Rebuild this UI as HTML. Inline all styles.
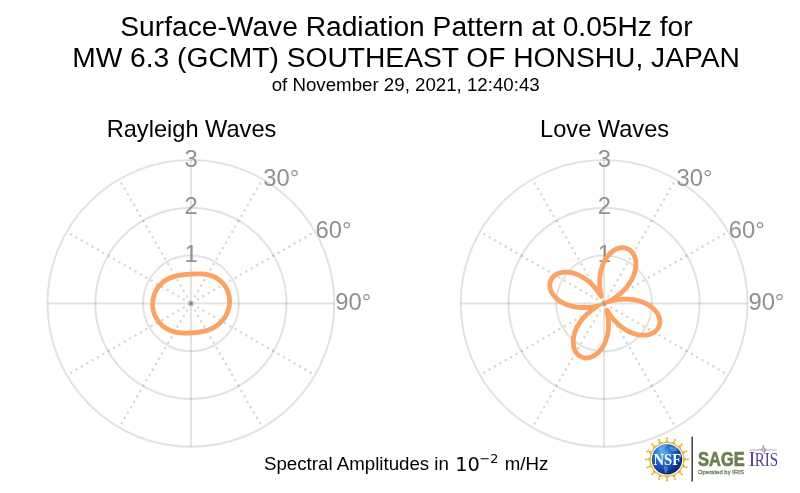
<!DOCTYPE html>
<html><head><meta charset="utf-8"><title>Surface-Wave Radiation Pattern</title>
<style>
html,body{margin:0;padding:0;background:#fff;}
body{width:800px;height:493px;overflow:hidden;}
svg{display:block;}
text{font-family:"Liberation Sans",sans-serif;fill:#000;}
.tk{font-size:23.8px;fill:#919191;}
.t1{font-size:28.2px;}
.t3{font-size:18.7px;}
.st{font-size:23.6px;}
.mj{font-family:"DejaVu Sans",sans-serif;}
</style></head><body>
<svg width="800" height="493" viewBox="0 0 800 493">
<rect width="800" height="493" fill="#fff"/>
<line x1="190.90" y1="303.40" x2="262.60" y2="179.21" stroke="#000" stroke-opacity="0.16" stroke-width="2.5" stroke-dasharray="0.01 6.19" stroke-dashoffset="-2" stroke-linecap="round"/>
<line x1="190.90" y1="303.40" x2="315.09" y2="231.70" stroke="#000" stroke-opacity="0.16" stroke-width="2.5" stroke-dasharray="0.01 6.19" stroke-dashoffset="-2" stroke-linecap="round"/>
<line x1="190.90" y1="303.40" x2="315.09" y2="375.10" stroke="#000" stroke-opacity="0.16" stroke-width="2.5" stroke-dasharray="0.01 6.19" stroke-dashoffset="-2" stroke-linecap="round"/>
<line x1="190.90" y1="303.40" x2="262.60" y2="427.59" stroke="#000" stroke-opacity="0.16" stroke-width="2.5" stroke-dasharray="0.01 6.19" stroke-dashoffset="-2" stroke-linecap="round"/>
<line x1="190.90" y1="303.40" x2="119.20" y2="427.59" stroke="#000" stroke-opacity="0.16" stroke-width="2.5" stroke-dasharray="0.01 6.19" stroke-dashoffset="-2" stroke-linecap="round"/>
<line x1="190.90" y1="303.40" x2="66.71" y2="375.10" stroke="#000" stroke-opacity="0.16" stroke-width="2.5" stroke-dasharray="0.01 6.19" stroke-dashoffset="-2" stroke-linecap="round"/>
<line x1="190.90" y1="303.40" x2="66.71" y2="231.70" stroke="#000" stroke-opacity="0.16" stroke-width="2.5" stroke-dasharray="0.01 6.19" stroke-dashoffset="-2" stroke-linecap="round"/>
<line x1="190.90" y1="303.40" x2="119.20" y2="179.21" stroke="#000" stroke-opacity="0.16" stroke-width="2.5" stroke-dasharray="0.01 6.19" stroke-dashoffset="-2" stroke-linecap="round"/>
<line x1="190.90" y1="303.40" x2="190.90" y2="160.00" stroke="#000" stroke-opacity="0.115" stroke-width="2"/>
<line x1="190.90" y1="303.40" x2="334.30" y2="303.40" stroke="#000" stroke-opacity="0.115" stroke-width="2"/>
<line x1="190.90" y1="303.40" x2="190.90" y2="446.80" stroke="#000" stroke-opacity="0.115" stroke-width="2"/>
<line x1="190.90" y1="303.40" x2="47.50" y2="303.40" stroke="#000" stroke-opacity="0.115" stroke-width="2"/>
<circle cx="190.90" cy="303.40" r="47.80" fill="none" stroke="#000" stroke-opacity="0.115" stroke-width="2"/>
<circle cx="190.90" cy="303.40" r="95.60" fill="none" stroke="#000" stroke-opacity="0.115" stroke-width="2"/>
<circle cx="190.90" cy="303.40" r="143.40" fill="none" stroke="#000" stroke-opacity="0.115" stroke-width="2"/>
<circle cx="190.90" cy="303.40" r="1.25" fill="#808080"/>
<text x="191.20" y="262.20" text-anchor="middle" class="tk">1</text>
<text x="191.20" y="214.40" text-anchor="middle" class="tk">2</text>
<text x="191.20" y="166.60" text-anchor="middle" class="tk">3</text>
<path d="M190.90,274.15 L191.41,274.11 L191.92,274.08 L192.44,274.05 L192.95,274.01 L193.47,273.98 L193.99,273.96 L194.52,273.93 L195.05,273.91 L195.57,273.89 L196.11,273.87 L196.64,273.85 L197.18,273.84 L197.73,273.83 L198.27,273.83 L198.82,273.83 L199.38,273.83 L199.94,273.84 L200.50,273.86 L201.06,273.88 L201.63,273.91 L202.21,273.95 L202.78,273.99 L203.36,274.04 L203.94,274.10 L204.53,274.17 L205.12,274.25 L205.71,274.34 L206.30,274.44 L206.89,274.55 L207.49,274.67 L208.09,274.80 L208.68,274.94 L209.28,275.09 L209.88,275.26 L210.48,275.44 L211.07,275.63 L211.67,275.84 L212.26,276.06 L212.85,276.29 L213.44,276.54 L214.02,276.80 L214.60,277.07 L215.18,277.36 L215.75,277.67 L216.32,277.98 L216.88,278.31 L217.43,278.66 L217.98,279.02 L218.51,279.40 L219.04,279.78 L219.57,280.19 L220.08,280.60 L220.58,281.03 L221.07,281.48 L221.56,281.93 L222.03,282.40 L222.49,282.89 L222.94,283.38 L223.37,283.89 L223.79,284.41 L224.20,284.94 L224.60,285.48 L224.98,286.03 L225.35,286.60 L225.71,287.17 L226.05,287.75 L226.37,288.34 L226.68,288.94 L226.98,289.55 L227.26,290.17 L227.52,290.79 L227.77,291.42 L228.00,292.06 L228.22,292.70 L228.42,293.35 L228.61,294.00 L228.77,294.66 L228.92,295.32 L229.06,295.98 L229.18,296.65 L229.28,297.32 L229.37,297.99 L229.44,298.67 L229.49,299.34 L229.53,300.02 L229.55,300.70 L229.55,301.37 L229.54,302.05 L229.52,302.73 L229.47,303.40 L229.42,304.07 L229.34,304.74 L229.25,305.41 L229.15,306.07 L229.03,306.74 L228.90,307.39 L228.75,308.05 L228.59,308.70 L228.41,309.34 L228.22,309.98 L228.01,310.61 L227.79,311.24 L227.56,311.86 L227.31,312.48 L227.05,313.09 L226.78,313.69 L226.50,314.28 L226.20,314.87 L225.89,315.45 L225.57,316.02 L225.24,316.58 L224.89,317.13 L224.54,317.68 L224.17,318.21 L223.80,318.74 L223.41,319.26 L223.01,319.76 L222.61,320.26 L222.19,320.75 L221.77,321.22 L221.33,321.69 L220.89,322.14 L220.44,322.59 L219.99,323.02 L219.52,323.44 L219.05,323.85 L218.58,324.26 L218.09,324.64 L217.60,325.02 L217.11,325.39 L216.61,325.75 L216.10,326.09 L215.59,326.43 L215.08,326.75 L214.56,327.06 L214.04,327.36 L213.51,327.65 L212.99,327.93 L212.46,328.20 L211.93,328.46 L211.39,328.71 L210.86,328.94 L210.32,329.17 L209.78,329.39 L209.24,329.60 L208.71,329.80 L208.17,329.99 L207.63,330.17 L207.09,330.34 L206.55,330.51 L206.01,330.67 L205.48,330.82 L204.94,330.96 L204.41,331.09 L203.87,331.22 L203.34,331.34 L202.81,331.46 L202.28,331.57 L201.75,331.67 L201.23,331.77 L200.70,331.86 L200.18,331.95 L199.65,332.03 L199.13,332.11 L198.61,332.19 L198.10,332.26 L197.58,332.33 L197.06,332.39 L196.55,332.45 L196.03,332.51 L195.52,332.56 L195.01,332.62 L194.49,332.67 L193.98,332.71 L193.47,332.76 L192.96,332.80 L192.44,332.84 L191.93,332.87 L191.42,332.91 L190.90,332.94 L190.38,332.97 L189.87,333.00 L189.35,333.02 L188.83,333.04 L188.31,333.06 L187.78,333.07 L187.26,333.09 L186.73,333.09 L186.20,333.10 L185.66,333.10 L185.13,333.09 L184.59,333.09 L184.05,333.07 L183.51,333.05 L182.96,333.03 L182.41,333.00 L181.86,332.96 L181.31,332.92 L180.75,332.87 L180.19,332.82 L179.63,332.76 L179.07,332.68 L178.50,332.61 L177.94,332.52 L177.37,332.42 L176.80,332.32 L176.22,332.20 L175.65,332.08 L175.08,331.94 L174.50,331.80 L173.93,331.65 L173.35,331.48 L172.78,331.30 L172.21,331.11 L171.63,330.91 L171.06,330.70 L170.49,330.48 L169.93,330.24 L169.36,330.00 L168.80,329.73 L168.25,329.46 L167.69,329.18 L167.14,328.88 L166.60,328.57 L166.06,328.24 L165.52,327.91 L164.99,327.56 L164.47,327.19 L163.96,326.82 L163.45,326.43 L162.95,326.03 L162.46,325.62 L161.97,325.20 L161.50,324.76 L161.03,324.31 L160.58,323.85 L160.13,323.38 L159.70,322.90 L159.27,322.40 L158.86,321.90 L158.45,321.39 L158.06,320.86 L157.68,320.33 L157.31,319.78 L156.96,319.23 L156.62,318.66 L156.29,318.09 L155.97,317.51 L155.67,316.92 L155.38,316.33 L155.10,315.73 L154.84,315.12 L154.60,314.50 L154.36,313.88 L154.14,313.25 L153.94,312.62 L153.75,311.98 L153.58,311.33 L153.42,310.69 L153.27,310.04 L153.14,309.38 L153.03,308.72 L152.93,308.06 L152.84,307.40 L152.77,306.74 L152.72,306.07 L152.68,305.40 L152.66,304.74 L152.65,304.07 L152.66,303.40 L152.68,302.73 L152.72,302.07 L152.78,301.40 L152.85,300.74 L152.93,300.08 L153.03,299.42 L153.15,298.76 L153.28,298.11 L153.42,297.46 L153.58,296.82 L153.75,296.18 L153.94,295.54 L154.15,294.92 L154.37,294.29 L154.60,293.67 L154.85,293.06 L155.11,292.46 L155.38,291.86 L155.67,291.27 L155.97,290.69 L156.28,290.11 L156.61,289.55 L156.95,288.99 L157.30,288.44 L157.67,287.90 L158.04,287.38 L158.43,286.86 L158.83,286.35 L159.24,285.85 L159.66,285.36 L160.09,284.89 L160.53,284.42 L160.98,283.97 L161.44,283.53 L161.91,283.10 L162.38,282.68 L162.87,282.28 L163.36,281.88 L163.86,281.50 L164.36,281.13 L164.87,280.77 L165.39,280.43 L165.91,280.10 L166.44,279.78 L166.97,279.47 L167.51,279.17 L168.04,278.89 L168.59,278.62 L169.13,278.36 L169.68,278.11 L170.23,277.87 L170.78,277.65 L171.33,277.43 L171.88,277.23 L172.44,277.03 L172.99,276.85 L173.54,276.67 L174.10,276.51 L174.65,276.35 L175.20,276.21 L175.75,276.07 L176.30,275.94 L176.84,275.82 L177.39,275.70 L177.93,275.59 L178.47,275.49 L179.01,275.39 L179.55,275.30 L180.08,275.22 L180.61,275.14 L181.14,275.07 L181.67,275.00 L182.20,274.93 L182.72,274.87 L183.24,274.81 L183.76,274.75 L184.27,274.70 L184.79,274.65 L185.30,274.60 L185.81,274.55 L186.32,274.50 L186.83,274.46 L187.34,274.42 L187.85,274.38 L188.36,274.33 L188.86,274.30 L189.37,274.26 L189.88,274.22 L190.39,274.18 L190.90,274.15Z" fill="none" stroke="#fba264" stroke-width="4.8" stroke-linejoin="round" stroke-linecap="round"/>
<text x="263.30" y="185.7" class="tk">30°</text>
<text x="315.50" y="237.7" class="tk">60°</text>
<text x="335.20" y="310.1" class="tk">90°</text>
<mask id="lm" maskUnits="userSpaceOnUse" x="0" y="0" width="800" height="493"><rect width="800" height="493" fill="#fff"/><polygon points="604.08,304.16 592.66,312.45 592.95,313.19 605.66,308.06" fill="#000"/><polygon points="605.01,304.86 618.62,301.96 618.92,302.70 606.21,307.83" fill="#000"/><polygon points="603.56,302.86 589.58,304.84 589.28,304.10 601.99,298.97" fill="#000"/><polygon points="603.74,301.71 615.54,294.35 615.25,293.61 602.54,298.74" fill="#000"/><polygon points="602.68,298.69 601.85,299.03 605.52,308.11 606.35,307.77" fill="#000"/></mask>
<line x1="604.10" y1="303.40" x2="675.80" y2="179.21" stroke="#000" stroke-opacity="0.16" stroke-width="2.5" stroke-dasharray="0.01 6.19" stroke-dashoffset="-2" stroke-linecap="round"/>
<line x1="604.10" y1="303.40" x2="728.29" y2="231.70" stroke="#000" stroke-opacity="0.16" stroke-width="2.5" stroke-dasharray="0.01 6.19" stroke-dashoffset="-2" stroke-linecap="round"/>
<line x1="604.10" y1="303.40" x2="728.29" y2="375.10" stroke="#000" stroke-opacity="0.16" stroke-width="2.5" stroke-dasharray="0.01 6.19" stroke-dashoffset="-2" stroke-linecap="round"/>
<line x1="604.10" y1="303.40" x2="675.80" y2="427.59" stroke="#000" stroke-opacity="0.16" stroke-width="2.5" stroke-dasharray="0.01 6.19" stroke-dashoffset="-2" stroke-linecap="round"/>
<line x1="604.10" y1="303.40" x2="532.40" y2="427.59" stroke="#000" stroke-opacity="0.16" stroke-width="2.5" stroke-dasharray="0.01 6.19" stroke-dashoffset="-2" stroke-linecap="round"/>
<line x1="604.10" y1="303.40" x2="479.91" y2="375.10" stroke="#000" stroke-opacity="0.16" stroke-width="2.5" stroke-dasharray="0.01 6.19" stroke-dashoffset="-2" stroke-linecap="round"/>
<line x1="604.10" y1="303.40" x2="479.91" y2="231.70" stroke="#000" stroke-opacity="0.16" stroke-width="2.5" stroke-dasharray="0.01 6.19" stroke-dashoffset="-2" stroke-linecap="round"/>
<line x1="604.10" y1="303.40" x2="532.40" y2="179.21" stroke="#000" stroke-opacity="0.16" stroke-width="2.5" stroke-dasharray="0.01 6.19" stroke-dashoffset="-2" stroke-linecap="round"/>
<line x1="604.10" y1="303.40" x2="604.10" y2="160.00" stroke="#000" stroke-opacity="0.115" stroke-width="2"/>
<line x1="604.10" y1="303.40" x2="747.50" y2="303.40" stroke="#000" stroke-opacity="0.115" stroke-width="2"/>
<line x1="604.10" y1="303.40" x2="604.10" y2="446.80" stroke="#000" stroke-opacity="0.115" stroke-width="2"/>
<line x1="604.10" y1="303.40" x2="460.70" y2="303.40" stroke="#000" stroke-opacity="0.115" stroke-width="2"/>
<circle cx="604.10" cy="303.40" r="47.80" fill="none" stroke="#000" stroke-opacity="0.115" stroke-width="2"/>
<circle cx="604.10" cy="303.40" r="95.60" fill="none" stroke="#000" stroke-opacity="0.115" stroke-width="2"/>
<circle cx="604.10" cy="303.40" r="143.40" fill="none" stroke="#000" stroke-opacity="0.115" stroke-width="2"/>
<circle cx="604.10" cy="303.40" r="1.25" fill="#808080"/>
<text x="604.40" y="262.20" text-anchor="middle" class="tk">1</text>
<text x="604.40" y="214.40" text-anchor="middle" class="tk">2</text>
<text x="604.40" y="166.60" text-anchor="middle" class="tk">3</text>
<path d="M604.10,261.88 L604.85,260.44 L605.65,259.08 L606.49,257.77 L607.38,256.54 L608.30,255.38 L609.26,254.29 L610.25,253.28 L611.28,252.35 L612.32,251.49 L613.39,250.73 L614.47,250.04 L615.57,249.44 L616.68,248.93 L617.79,248.50 L618.90,248.17 L620.01,247.92 L621.11,247.76 L622.20,247.68 L623.28,247.70 L624.34,247.80 L625.37,247.99 L626.37,248.27 L627.35,248.63 L628.29,249.07 L629.19,249.60 L630.05,250.20 L630.86,250.88 L631.62,251.64 L632.33,252.47 L632.98,253.37 L633.58,254.34 L634.11,255.37 L634.58,256.47 L634.98,257.62 L635.31,258.83 L635.57,260.08 L635.76,261.39 L635.87,262.74 L635.90,264.13 L635.86,265.55 L635.73,267.01 L635.53,268.50 L635.24,270.00 L634.87,271.53 L634.42,273.08 L633.89,274.63 L633.28,276.19 L632.59,277.75 L631.81,279.31 L630.95,280.87 L630.02,282.41 L629.01,283.94 L627.92,285.45 L626.76,286.94 L625.52,288.40 L624.22,289.83 L622.84,291.23 L621.41,292.59 L619.90,293.90 L618.34,295.18 L616.73,296.40 L615.05,297.58 L613.33,298.70 L611.56,299.76 L609.75,300.76 L607.90,301.71 L606.02,302.59 L604.10,303.40 L606.04,302.65 L608.01,301.98 L610.00,301.37 L612.00,300.83 L614.01,300.37 L616.03,299.98 L618.04,299.66 L620.06,299.42 L622.07,299.25 L624.06,299.16 L626.04,299.14 L628.00,299.19 L629.93,299.31 L631.83,299.50 L633.70,299.77 L635.54,300.10 L637.33,300.49 L639.07,300.95 L640.77,301.48 L642.41,302.06 L643.99,302.70 L645.52,303.40 L646.98,304.15 L648.37,304.95 L649.70,305.79 L650.95,306.68 L652.13,307.60 L653.23,308.56 L654.26,309.56 L655.20,310.58 L656.06,311.63 L656.83,312.70 L657.52,313.78 L658.12,314.88 L658.63,315.99 L659.05,317.10 L659.39,318.21 L659.63,319.32 L659.79,320.42 L659.85,321.52 L659.83,322.59 L659.72,323.64 L659.52,324.67 L659.24,325.68 L658.87,326.65 L658.42,327.59 L657.89,328.48 L657.28,329.34 L656.59,330.14 L655.83,330.90 L654.99,331.61 L654.09,332.26 L653.11,332.85 L652.08,333.38 L650.98,333.85 L649.83,334.25 L648.63,334.58 L647.37,334.84 L646.07,335.03 L644.73,335.14 L643.34,335.18 L641.93,335.14 L640.48,335.03 L639.01,334.83 L637.52,334.56 L636.00,334.21 L634.48,333.78 L632.95,333.27 L631.41,332.68 L629.87,332.02 L628.33,331.28 L626.81,330.46 L625.30,329.58 L623.80,328.62 L622.33,327.59 L620.88,326.50 L619.46,325.34 L618.08,324.13 L616.74,322.86 L615.44,321.55 L614.19,320.20 L613.00,318.82 L611.87,317.42 L610.81,316.02 L609.84,314.66 L608.95,313.35 L608.19,312.17 L607.57,311.20 L607.14,310.56 L606.91,310.36 L606.89,310.66 L607.02,311.42 L607.25,312.55 L607.52,313.92 L607.79,315.46 L608.03,317.11 L608.24,318.83 L608.39,320.61 L608.49,322.41 L608.53,324.23 L608.50,326.05 L608.41,327.86 L608.26,329.67 L608.04,331.45 L607.76,333.21 L607.42,334.94 L607.01,336.63 L606.54,338.29 L606.01,339.89 L605.43,341.45 L604.79,342.96 L604.10,344.41 L603.36,345.80 L602.57,347.13 L601.74,348.39 L600.87,349.58 L599.96,350.70 L599.02,351.74 L598.05,352.71 L597.04,353.60 L596.02,354.41 L594.98,355.14 L593.92,355.79 L592.85,356.35 L591.77,356.82 L590.68,357.21 L589.60,357.52 L588.52,357.74 L587.45,357.87 L586.39,357.91 L585.34,357.87 L584.32,357.75 L583.32,357.54 L582.35,357.25 L581.40,356.87 L580.50,356.42 L579.63,355.88 L578.80,355.27 L578.02,354.59 L577.29,353.83 L576.61,353.00 L575.98,352.10 L575.41,351.14 L574.90,350.12 L574.46,349.04 L574.08,347.91 L573.77,346.72 L573.53,345.48 L573.35,344.20 L573.26,342.88 L573.23,341.52 L573.29,340.12 L573.41,338.70 L573.62,337.25 L573.91,335.78 L574.27,334.29 L574.71,332.79 L575.23,331.28 L575.83,329.76 L576.51,328.24 L577.27,326.72 L578.10,325.21 L579.01,323.72 L580.00,322.23 L581.05,320.77 L582.18,319.33 L583.38,317.91 L584.64,316.52 L585.97,315.17 L587.37,313.86 L588.82,312.58 L590.33,311.35 L591.89,310.17 L593.51,309.03 L595.18,307.95 L596.89,306.92 L598.64,305.95 L600.42,305.04 L602.25,304.19 L604.10,303.40 L602.22,304.12 L600.32,304.78 L598.40,305.36 L596.47,305.88 L594.52,306.33 L592.57,306.71 L590.62,307.01 L588.67,307.25 L586.73,307.41 L584.80,307.50 L582.88,307.52 L580.99,307.48 L579.11,307.36 L577.27,307.17 L575.46,306.92 L573.68,306.60 L571.94,306.21 L570.25,305.77 L568.60,305.26 L567.00,304.70 L565.46,304.07 L563.97,303.40 L562.55,302.67 L561.18,301.90 L559.89,301.08 L558.66,300.22 L557.51,299.32 L556.42,298.39 L555.42,297.42 L554.49,296.43 L553.64,295.41 L552.87,294.37 L552.19,293.31 L551.59,292.24 L551.07,291.16 L550.64,290.07 L550.30,288.98 L550.04,287.90 L549.87,286.82 L549.78,285.75 L549.78,284.70 L549.87,283.66 L550.04,282.65 L550.29,281.66 L550.63,280.70 L551.05,279.78 L551.54,278.89 L552.12,278.05 L552.77,277.24 L553.49,276.49 L554.28,275.79 L555.15,275.14 L556.08,274.54 L557.07,274.01 L558.12,273.54 L559.22,273.13 L560.39,272.79 L561.60,272.52 L562.85,272.32 L564.15,272.19 L565.49,272.14 L566.86,272.16 L568.27,272.25 L569.70,272.43 L571.15,272.68 L572.63,273.01 L574.11,273.41 L575.61,273.90 L577.12,274.46 L578.62,275.10 L580.12,275.82 L581.62,276.61 L583.11,277.47 L584.57,278.41 L586.02,279.41 L587.45,280.48 L588.85,281.61 L590.21,282.81 L591.53,284.05 L592.82,285.34 L594.05,286.68 L595.23,288.04 L596.35,289.42 L597.40,290.81 L598.38,292.17 L599.25,293.46 L600.01,294.63 L600.63,295.60 L601.06,296.24 L601.29,296.44 L601.31,296.14 L601.18,295.37 L600.95,294.25 L600.68,292.87 L600.41,291.32 L600.16,289.66 L599.95,287.92 L599.79,286.13 L599.69,284.30 L599.65,282.46 L599.67,280.62 L599.76,278.78 L599.91,276.94 L600.13,275.13 L600.41,273.34 L600.76,271.58 L601.16,269.85 L601.64,268.16 L602.17,266.51 L602.76,264.91 L603.40,263.37 L604.10,261.88Z" fill="none" stroke="#fba264" stroke-width="4.8" stroke-linejoin="round" stroke-linecap="round" mask="url(#lm)"/>
<text x="676.50" y="185.7" class="tk">30°</text>
<text x="728.70" y="237.7" class="tk">60°</text>
<text x="748.40" y="310.1" class="tk">90°</text>

<text x="406.5" y="35.6" text-anchor="middle" class="t1">Surface-Wave Radiation Pattern at 0.05Hz for</text>
<text x="406" y="66.5" text-anchor="middle" class="t1">MW 6.3 (GCMT) SOUTHEAST OF HONSHU, JAPAN</text>
<text x="405.7" y="90.75" text-anchor="middle" class="t3">of November 29, 2021, 12:40:43</text>
<text x="191.5" y="136.8" text-anchor="middle" class="st">Rayleigh Waves</text>
<text x="604.6" y="136.8" text-anchor="middle" class="st">Love Waves</text>
<text x="264" y="470.4" class="t3">Spectral Amplitudes in</text>
<text x="455.2" y="470.5" class="mj" font-size="19.4">10</text>
<text x="479.6" y="463.1" class="mj" font-size="12.8">−2</text>
<text x="504.7" y="470.4" class="t3">m/Hz</text>
<defs><radialGradient id="gl" cx="0.36" cy="0.3" r="0.75"><stop offset="0" stop-color="#6fb4ea"/><stop offset="0.35" stop-color="#2a74cf"/><stop offset="0.75" stop-color="#0f3f9e"/><stop offset="1" stop-color="#0a2468"/></radialGradient></defs>
<polygon points="667.00,439.15 669.10,442.18 671.63,442.68 674.73,440.69 675.51,444.29 677.66,445.72 681.28,445.07 680.63,448.69 682.06,450.84 685.66,451.62 683.67,454.72 684.17,457.25 687.20,459.35 684.17,461.45 683.67,463.98 685.66,467.08 682.06,467.86 680.63,470.01 681.28,473.63 677.66,472.98 675.51,474.41 674.73,478.01 671.63,476.02 669.10,476.52 667.00,479.55 664.90,476.52 662.37,476.02 659.27,478.01 658.49,474.41 656.34,472.98 652.72,473.63 653.37,470.01 651.94,467.86 648.34,467.08 650.33,463.98 649.83,461.45 646.80,459.35 649.83,457.25 650.33,454.72 648.34,451.62 651.94,450.84 653.37,448.69 652.72,445.07 656.34,445.72 658.49,444.29 659.27,440.69 662.37,442.68 664.90,442.18" fill="#e2b93f"/>
<circle cx="667.00" cy="438.45" r="1.2" fill="#e6c04a"/>
<circle cx="675.00" cy="440.04" r="1.2" fill="#e6c04a"/>
<circle cx="681.78" cy="444.57" r="1.2" fill="#e6c04a"/>
<circle cx="686.31" cy="451.35" r="1.2" fill="#e6c04a"/>
<circle cx="687.90" cy="459.35" r="1.2" fill="#e6c04a"/>
<circle cx="686.31" cy="467.35" r="1.2" fill="#e6c04a"/>
<circle cx="681.78" cy="474.13" r="1.2" fill="#e6c04a"/>
<circle cx="675.00" cy="478.66" r="1.2" fill="#e6c04a"/>
<circle cx="667.00" cy="480.25" r="1.2" fill="#e6c04a"/>
<circle cx="659.00" cy="478.66" r="1.2" fill="#e6c04a"/>
<circle cx="652.22" cy="474.13" r="1.2" fill="#e6c04a"/>
<circle cx="647.69" cy="467.35" r="1.2" fill="#e6c04a"/>
<circle cx="646.10" cy="459.35" r="1.2" fill="#e6c04a"/>
<circle cx="647.69" cy="451.35" r="1.2" fill="#e6c04a"/>
<circle cx="652.22" cy="444.57" r="1.2" fill="#e6c04a"/>
<circle cx="659.00" cy="440.04" r="1.2" fill="#e6c04a"/>
<circle cx="667.00" cy="459.35" r="16.4" fill="#fff"/>
<circle cx="667.00" cy="459.35" r="17.0" fill="none" stroke="#e4bd45" stroke-width="1.0"/>
<circle cx="667.00" cy="459.35" r="15.2" fill="url(#gl)"/>
<path d="M658 449 q3 -4 8 -4.5 q2 1.5 -1 3 q-2 2.5 -4.5 3 q-2.5 0.5 -2.5 -1.5z M669 447 q4 -2 8 1 q1.5 2 -1 3 q-3 0.5 -5 -1 q-2 -1.5 -2 -3z M664.5 466 q2.5 -0.5 3.5 2 q0 3.5 -2 6 q-1.8 -2.5 -2.2 -5 q-0.3 -2 0.7 -3z" fill="#9fd0f5" fill-opacity="0.38"/>
<text x="667.30" y="464.65" text-anchor="middle" textLength="27.6" lengthAdjust="spacingAndGlyphs" style="font-family:'Liberation Serif',serif;font-weight:bold;font-size:16px;fill:#fff">NSF</text>
<rect x="691.5" y="436.6" width="1.3" height="45" fill="#1e1e1e"/>
<text x="698.1" y="466" textLength="46.6" lengthAdjust="spacingAndGlyphs" style="font-weight:bold;font-size:19.4px;fill:#6d7f55;stroke:#6d7f55;stroke-width:0.7px">SAGE</text>
<text x="697.9" y="473.6" textLength="46" lengthAdjust="spacingAndGlyphs" style="font-size:6.1px;fill:#6f8058;stroke:#6f8058;stroke-width:0.28px">Operated by IRIS</text>
<text x="748.4" y="466.3" style="font-family:'Liberation Serif',serif;font-size:21px;fill:#5a3d99">I</text>
<text x="754.7" y="466.3" textLength="23.5" lengthAdjust="spacingAndGlyphs" style="font-family:'Liberation Serif',serif;font-size:18.1px;fill:#5a3d99">RIS</text>
<path d="M750 450 H759 L760 449.5 L760.8 450.6 L761.6 448.8 L762.3 451.6 L763 446.8 L763.6 445 L764.2 454.2 L764.9 448 L765.6 451.2 L766.4 449.4 L767.2 450.3 L768 450 H776.8" fill="none" stroke="#857f92" stroke-width="0.65"/>
</svg>
</body></html>
